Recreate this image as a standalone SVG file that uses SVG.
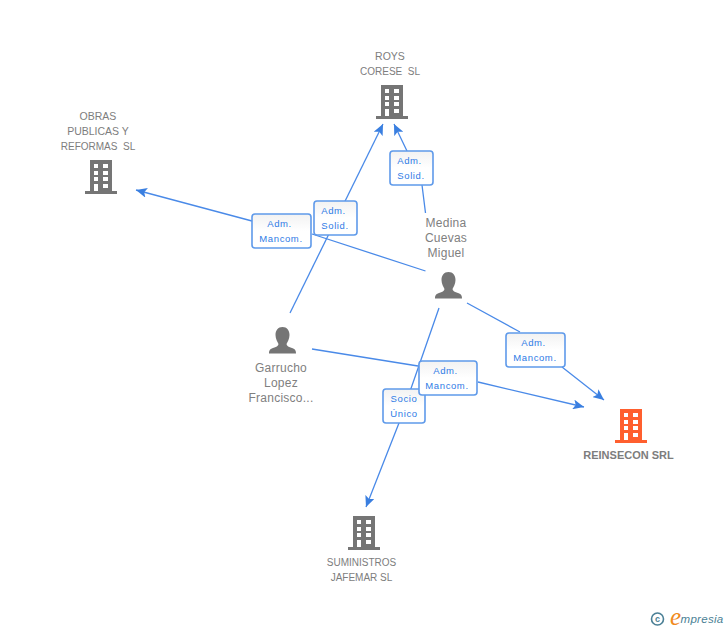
<svg xmlns="http://www.w3.org/2000/svg" width="728" height="630" viewBox="0 0 728 630">
<style>
text{font-family:"Liberation Sans",Arial,sans-serif;white-space:pre}
.n{font-size:10.5px;fill:#7d7d7d;text-anchor:middle}
.s{font-size:10px;fill:#7d7d7d;text-anchor:middle}
.p{font-size:12px;fill:#808080;text-anchor:middle;letter-spacing:.25px}
.l{font-size:9.5px;fill:#2f7be6;text-anchor:middle;letter-spacing:.6px}
.e{fill:none;stroke:#4a8ae8;stroke-width:1.3}
.b{fill:url(#g);stroke:#5f9aea;stroke-width:1.6}
</style>
<defs>
<linearGradient id="g" x1="0" y1="0" x2="0" y2="1"><stop offset="0" stop-color="#f2f2f2"/><stop offset=".5" stop-color="#fff"/></linearGradient>
<marker id="a" viewBox="0 0 12 10" refX="11" refY="5" markerWidth="12" markerHeight="10" markerUnits="userSpaceOnUse" orient="auto"><path d="M0 0L11 5L0 10L2.500 5Z" fill="#3a7fe0"/></marker>
<g id="bld">
<path fill-rule="evenodd" d="M5 0H27V31H32V34H0V31H5ZM9 4V8H13V4ZM18 4V8H23V4ZM9 11V15H13V11ZM18 11V15H23V11ZM9 17V21H13V17ZM18 17V21H23V17ZM9 24V31H13V24ZM18 24V28H23V24Z"/>
</g>
<path id="per" d="M13.500 0C18 0 20.500 3.500 20.500 8C20.500 12 18.500 15 17.500 17C17.500 19 20 20 23 21C26.500 22 27 24 27 26.500H0C0 24 .5 22 4 21C7 20 9.500 19 9.500 17C8.500 15 6.500 12 6.500 8C6.500 3.500 9 0 13.500 0Z"/>
</defs>
<g id="connectors">
<path class="e" d="M290 313L383 124" marker-end="url(#a)"/>
<path class="e" d="M425.500 213L422 185M407 151L394 124" marker-end="url(#a)"/>
<path class="e" d="M425.500 271L312 234M252 221L136 190" marker-end="url(#a)"/>
<path class="e" d="M467 303L520 332M562 367L604 400" marker-end="url(#a)"/>
<path class="e" d="M312 349L418 366M478 382L584 407" marker-end="url(#a)"/>
<path class="e" d="M439 308L399 423L366 507" marker-end="url(#a)"/>
</g>
<g id="label1"><rect class="b" x="390" y="151" width="43" height="34" rx="3"/><text class="l" x="409.500" y="164">Adm.</text><text class="l" x="411" y="179">Solid.</text></g>
<g id="label2"><rect class="b" x="252" y="214" width="59" height="34" rx="3"/><text class="l" x="279.500" y="227">Adm.</text><text class="l" x="281" y="242">Mancom.</text></g>
<g id="label3"><rect class="b" x="314" y="201" width="43" height="34" rx="3"/><text class="l" x="333.500" y="214">Adm.</text><text class="l" x="335" y="229">Solid.</text></g>
<g id="label4"><rect class="b" x="506" y="333" width="59" height="34" rx="3"/><text class="l" x="533.500" y="346">Adm.</text><text class="l" x="535" y="361">Mancom.</text></g>
<g id="label5"><rect class="b" x="383" y="389" width="42" height="34" rx="3"/><text class="l" x="404" y="402">Socio</text><text class="l" x="404" y="417">Único</text></g>
<g id="label6"><rect class="b" x="419" y="361" width="58" height="34" rx="3"/><text class="l" x="445.500" y="374">Adm.</text><text class="l" x="447" y="389">Mancom.</text></g>
<g id="roys" fill="#757575"><text class="n" x="390" y="60">ROYS</text><text class="s" x="390" y="75">CORESE  SL</text><use href="#bld" x="376" y="85"/></g>
<g id="obras" fill="#757575"><text class="n" x="98" y="120">OBRAS</text><text class="n" x="98" y="135">PUBLICAS Y</text><text class="s" x="98" y="150">REFORMAS  SL</text><use href="#bld" x="85" y="160"/></g>
<g id="medina" fill="#757575"><text class="p" x="446" y="227">Medina</text><text class="p" x="446" y="242">Cuevas</text><text class="p" x="446" y="257">Miguel</text><use href="#per" x="435" y="272"/></g>
<g id="garrucho" fill="#757575"><use href="#per" x="269" y="327"/><text class="p" x="281" y="372">Garrucho</text><text class="p" x="281" y="387">Lopez</text><text class="p" x="281" y="402">Francisco...</text></g>
<g id="reinsecon" fill="#ff5f2e"><use href="#bld" x="615" y="409"/><text x="628.500" y="459" font-size="11" font-weight="bold" fill="#7d7d7d" text-anchor="middle">REINSECON SRL</text></g>
<g id="suministros" fill="#757575"><use href="#bld" x="348" y="516"/><text class="s" x="361.500" y="566">SUMINISTROS</text><text class="s" x="361.500" y="581">JAFEMAR SL</text></g>
<g id="credit"><circle cx="657.500" cy="619" r="6" fill="none" stroke="#4a7f95" stroke-width="1.6"/><text x="657.500" y="622" font-size="9" font-weight="bold" fill="#4a7f95" text-anchor="middle">c</text><text x="670" y="625" font-size="25" font-style="italic" fill="#f08a1d" style="font-family:'Liberation Serif',serif">e</text><text x="680.500" y="623" font-size="11.500" font-style="italic" fill="#4a7f95" letter-spacing=".3">mpresia</text></g>
</svg>
